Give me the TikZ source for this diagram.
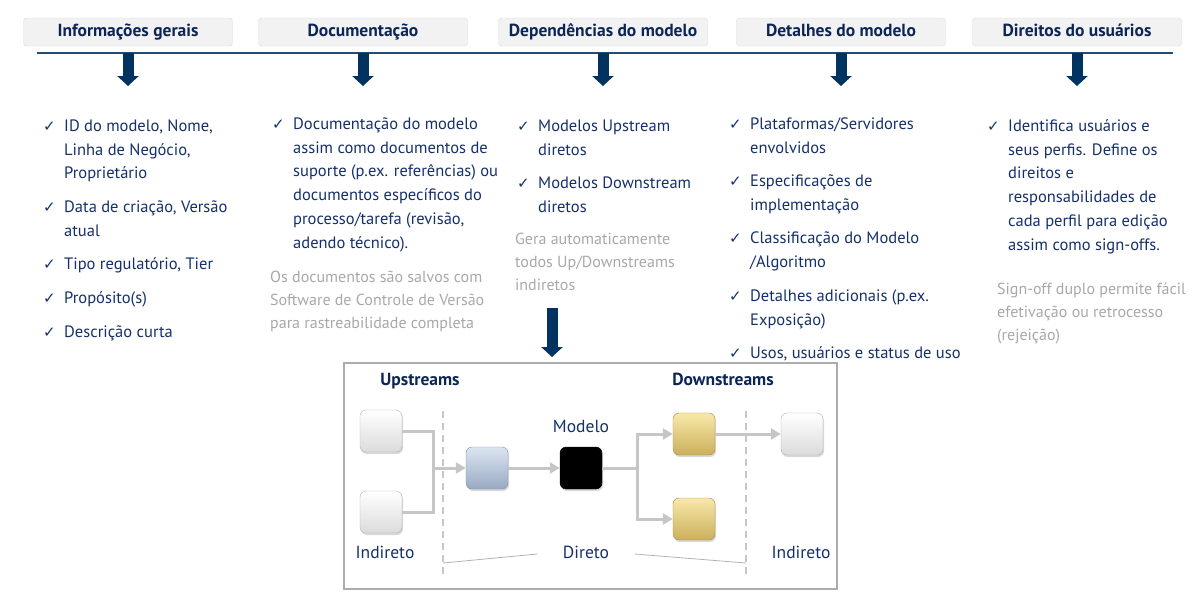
\documentclass[tikz,border=0pt]{standalone}
\usepackage{fontspec}
\setmainfont{PT Sans}
\newfontfamily\symfont{DejaVu Sans}
\usetikzlibrary{arrows.meta,shadows}

\definecolor{Navy}{HTML}{14306B}
\definecolor{HdrText}{HTML}{0C2557}
\definecolor{HdrFill}{HTML}{F2F2F2}
\definecolor{HdrLine}{HTML}{D9D9D9}
\definecolor{RuleBlue}{HTML}{1F4E79}
\definecolor{ArrowBlue}{HTML}{003360}
\definecolor{NoteGray}{HTML}{A8A8A8}
\definecolor{LinkGray}{HTML}{C6C6C6}
\definecolor{BlueTop}{HTML}{DCE5F1}
\definecolor{BlueBot}{HTML}{98AAC3}
\definecolor{BlueEdge}{HTML}{7F8EA3}
\definecolor{GoldTop}{HTML}{F8E8A8}
\definecolor{GoldBot}{HTML}{CBB05C}
\definecolor{GoldEdge}{HTML}{A48D4A}

\tikzset{
  hdr/.style={draw=HdrLine, fill=HdrFill, rounded corners=3pt, minimum width=209pt,
    minimum height=28pt, text height=12.5pt, text depth=3.5pt, text=HdrText,
    font=\bfseries\fontsize{17.5}{20}\selectfont},
  blockarrow/.style={ArrowBlue, line width=11pt, -{Triangle[width=21pt,length=10pt]}},
  item/.style={inner sep=0pt, align=left, text=Navy, font=\fontsize{16.5}{23.8}\selectfont},
  note/.style={inner sep=0pt, align=left, text=NoteGray, font=\fontsize{16}{23}\selectfont},
  tick/.style={inner sep=0pt, text=Navy, font=\symfont\fontsize{15}{16}\selectfont},
  sq/.style={minimum size=42pt, rounded corners=6pt, inner sep=0pt,
    drop shadow={opacity=0.3, shadow xshift=1pt, shadow yshift=-2pt}},
  wsq/.style={sq, draw=gray!60, top color=white, bottom color=gray!28},
  bsq/.style={sq, draw=BlueEdge, top color=BlueTop, bottom color=BlueBot},
  ksq/.style={sq, draw=black, fill=black},
  gsq/.style={sq, draw=GoldEdge, top color=GoldTop, bottom color=GoldBot},
  link/.style={LinkGray, line width=3pt},
  linkarrow/.style={link, -{Triangle[width=11pt,length=10pt]}},
  divider/.style={gray!45, line width=1.5pt, dash pattern=on 7pt off 5pt},
  plabel/.style={text=Navy, text height=12.5pt, text depth=3.5pt, font=\fontsize{17.5}{20}\selectfont},
  ptitle/.style={text=HdrText, text height=12.5pt, text depth=3.5pt, font=\bfseries\fontsize{17.5}{20}\selectfont}
}

% checked item: name, x, y (first baseline), text
\newcommand{\tickitem}[4]{%
  \node[item, anchor=north west] (#1) at (#2,#3-16) {\rule{0pt}{16pt}#4};
  \node[tick, anchor=base east] (#1c) at ([xshift=-8pt,yshift=-16pt]#1.north west) {✓};
}

\begin{document}
\begin{tikzpicture}[x=1pt, y=-1pt]
    \useasboundingbox (0,0) rectangle (1200,598);

    % Headers
    \foreach \i/\x/\t in {1/128/Informações gerais, 2/363/Documentação,
        3/603/Dependências do modelo, 4/841/Detalhes do modelo, 5/1077/Direitos do usuários} {
        \node[hdr] (h\i) at (\x,32) {\t};
    }
    \draw[RuleBlue, line width=1.5pt] (37,53) coordinate (rl) -- (1173,53);

    % Arrows down
    \foreach \i in {1,...,5} {
        \draw[blockarrow] (h\i.south |- rl) -- ++(0,33);
    }

    % Informações gerais
    \tickitem{a1}{64}{131}{ID do modelo, Nome,\\Linha de Negócio,\\Proprietário}
    \tickitem{a2}{64}{212}{Data de criação, Versão\\atual}
    \tickitem{a3}{64}{269}{Tipo regulatório, Tier}
    \tickitem{a4}{64}{303}{Propósito(s)}
    \tickitem{a5}{64}{337}{Descrição curta}

    % Documentação
    \tickitem{b1}{293}{129}{Documentação do modelo\\assim como documentos de\\suporte (p.ex. referências) ou\\documentos específicos do\\processo/tarefa (revisão,\\adendo técnico).}
    \node[note, anchor=north west] (bn) at (270,282-16) {\rule{0pt}{16pt}Os documentos são salvos com\\Software de Controle de Versão\\para rastreabilidade completa};

    % Dependências do modelo
    \tickitem{c1}{538}{131}{Modelos Upstream\\diretos}
    \tickitem{c2}{538}{188}{Modelos Downstream\\diretos}
    \node[note, anchor=north west] (cn) at (515,244-16) {\rule{0pt}{16pt}Gera automaticamente\\todos Up/Downstreams\\indiretos};

    % Detalhes do modelo
    \tickitem{d1}{750}{129}{Plataformas/Servidores\\envolvidos}
    \tickitem{d2}{750}{186}{Especificações de\\implementação}
    \tickitem{d3}{750}{243}{Classificação do Modelo\\/Algoritmo}
    \tickitem{d4}{750}{301}{Detalhes adicionais (p.ex.\\Exposição)}
    \tickitem{d5}{750}{358}{Usos, usuários e status de uso}

    % Direitos do usuários
    \tickitem{e1}{1008}{131}{Identifica usuários e\\seus perfis. Define os\\direitos e\\responsabilidades de\\cada perfil para edição\\assim como sign-offs.}
    \node[note, anchor=north west] (en) at (997,294-16) {\rule{0pt}{16pt}Sign-off duplo permite fácil\\efetivação ou retrocesso\\(rejeição)};

    % Arrow into the dependency panel
    \coordinate (dn) at (552,308);
    \draw[blockarrow] (dn) -- ++(0,49);

    % Dependency panel
    \draw[gray!65, line width=1.2pt] (344,363) rectangle (837,589);
    \node[ptitle] (up) at (420,381) {Upstreams};
    \node[ptitle] (down) at (723,381) {Downstreams};

    \draw[divider] (443,411) -- (443,575);
    \draw[divider] (746,411) -- (746,575);

    \node[wsq] (u1) at (381,431) {};
    \node[wsq] (u2) at (381,512) {};
    \node[bsq] (blu) at (487,468) {};
    \node[ksq] (mdl) at (581,468) {};
    \node[gsq] (g1) at (694,434) {};
    \node[gsq] (g2) at (694,519) {};
    \node[wsq] (w3) at (802,434) {};

    \node[plabel] (mlab) at (581,428) {Modelo};
    \node[plabel] (ind1) at (385,554) {Indireto};
    \node[plabel] (dir) at (586,554) {Direto};
    \node[plabel] (ind2) at (801,554) {Indireto};

    % Connectors
    \coordinate (j1) at (433,468);
    \coordinate (j2) at (637,468);
    \draw[link] (u1.east) -| (j1);
    \draw[link] (u2.east) -| (j1);
    \draw[linkarrow] (j1) -- (blu.west);
    \draw[linkarrow] (blu.east) -- (mdl.west);
    \draw[link] (mdl.east) -- (j2);
    \draw[linkarrow] (j2) |- (g1.west);
    \draw[linkarrow] (j2) |- (g2.west);
    \draw[linkarrow] (g1.east) -- (w3.west);

    % Direto brace lines
    \draw[gray!60, line width=0.8pt] ([xshift=-22pt]dir.west) -- (443,563);
    \draw[gray!60, line width=0.8pt] ([xshift=22pt]dir.east) -- (746,563);
\end{tikzpicture}
\end{document}
